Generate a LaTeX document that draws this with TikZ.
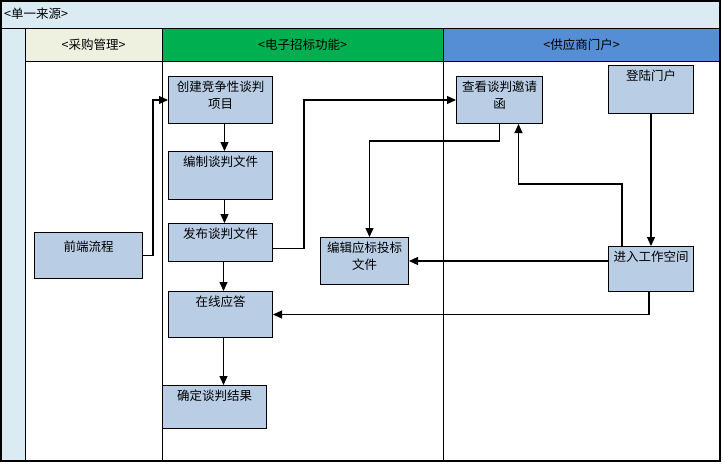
\documentclass[tikz,border=0pt]{standalone}
\usepackage{fontspec}
\setmainfont{Noto Sans CJK SC}
\usetikzlibrary{arrows.meta}

\definecolor{procfill}{RGB}{185,205,229}
\definecolor{bandfill}{RGB}{219,235,243}
\definecolor{purfill}{RGB}{238,240,224}
\definecolor{ebidfill}{RGB}{0,176,80}
\definecolor{supfill}{RGB}{85,142,213}

\tikzset{
  proc/.style={draw,fill=procfill,anchor=north west,inner sep=0pt,line width=1pt},
  boxtext/.style={anchor=north,yshift=-5pt,align=center,inner sep=0pt,font=\fontsize{12.5}{17}\selectfont},
  flow/.style={-{Triangle[length=9pt,width=8pt]},line width=1.2pt},
  lanehead/.style={draw,line width=1pt,minimum height=33pt,inner sep=0pt,font=\fontsize{12.5}{15}\selectfont},
}

\begin{document}
\begin{tikzpicture}[x=1pt,y=-1pt]
  \useasboundingbox (0,0) rectangle (723,464);
  % pool and lanes
  \fill [white] (1,1) rectangle (720,461);
  \fill [bandfill] (1,1) rectangle (720,28);
  \fill [bandfill] (1,28) rectangle (25,461);
  \node (Pool) at (4,14) [anchor=west,inner sep=0pt,font=\fontsize{12.5}{15}\selectfont] {<单一来源>};
  \node (PurHead) at (93.5,44.5) [lanehead,fill=purfill,minimum width=137pt] {<采购管理>};
  \node (EbidHead) at (302.5,44.5) [lanehead,fill=ebidfill,minimum width=281pt] {<电子招标功能>};
  \node (SupHead) at (581.5,44.5) [lanehead,fill=supfill,minimum width=277pt] {<供应商门户>};
  \draw [line width=1pt] (1,28) -- (720,28);
  \draw [line width=1pt] (25,28) -- (25,461);
  \draw [line width=1pt] (162,61) -- (162,461);
  \draw [line width=1pt] (443,61) -- (443,461);
  \draw [line width=1.2pt] (1,1) rectangle (720,461);

  % steps
  \node (Front) at (34,232) [proc,minimum width=108pt,minimum height=46pt,label={[boxtext,yshift=-4pt]north:前端流程}] {};
  \node (Create) at (168,76) [proc,minimum width=104pt,minimum height=47pt,label={[boxtext]north:创建竞争性谈判\\项目}] {};
  \node (Compile) at (168,151) [proc,minimum width=104pt,minimum height=48pt,label={[boxtext]north:编制谈判文件}] {};
  \node (Publish) at (168,223) [proc,minimum width=104pt,minimum height=38pt,label={[boxtext]north:发布谈判文件}] {};
  \node (Answer) at (168,291) [proc,minimum width=104pt,minimum height=46pt,label={[boxtext]north:在线应答}] {};
  \node (Result) at (162,385) [proc,minimum width=104pt,minimum height=43pt,label={[boxtext]north:确定谈判结果}] {};
  \node (EditBid) at (320,237) [proc,minimum width=88pt,minimum height=47pt,label={[boxtext]north:编辑应标投标\\文件}] {};
  \node (ViewInvite) at (456,76) [proc,minimum width=86pt,minimum height=47pt,label={[boxtext]north:查看谈判邀请\\函}] {};
  \node (Login) at (608,65) [proc,minimum width=85pt,minimum height=48pt,label={[boxtext]north:登陆门户}] {};
  \node (Workspace) at (608,246) [proc,minimum width=85pt,minimum height=45pt,label={[boxtext]north:进入工作空间}] {};

  % flows
  \draw [flow] (Front.east) -- ++(10,0) |- (Create.west);
  \draw [flow] ([xshift=4pt]Create.south) -- ([xshift=4pt]Compile.north);
  \draw [flow] ([xshift=4pt]Compile.south) -- ([xshift=4pt]Publish.north);
  \draw [flow] ([xshift=3pt]Publish.south) -- ([xshift=3pt]Answer.north);
  \draw [flow] ([xshift=3pt]Answer.south) -- ([xshift=3pt]Answer.south |- Result.north);
  \draw [flow] ([yshift=-6pt]Publish.east) -- ++(31,0) |- (ViewInvite.west);
  \draw [flow] (ViewInvite.south) -- ++(0,17) -| ([xshift=5pt]EditBid.north);
  \draw [flow] ([xshift=14pt]Workspace.north west) -- ++(0,-62) -| ([xshift=19pt]ViewInvite.south);
  \draw [flow] (Login.south) -- (Workspace.north);
  \draw [flow] (Workspace.west |- EditBid.east) -- (EditBid.east);
  \draw [flow] ([xshift=-2pt]Workspace.south) |- (Answer.east);
\end{tikzpicture}
\end{document}
